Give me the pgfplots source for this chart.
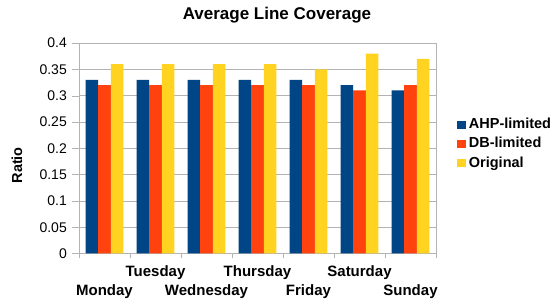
\documentclass[border=0pt]{standalone}
\usepackage{pgfplots}
\pgfplotsset{compat=1.18}
\usepackage{fontspec}
\setmainfont{Liberation Sans}
\definecolor{cblue}{HTML}{004586}
\definecolor{corange}{HTML}{FF420E}
\definecolor{cyellow}{HTML}{FFD320}
\definecolor{cgrid}{HTML}{B3B3B3}
\begin{document}
\begin{tikzpicture}[x=1pt,y=1pt]
\path[use as bounding box] (0,0) rectangle (553,302);
\begin{axis}[
  at={(79pt,48.5pt)}, anchor=south west,
  scale only axis,
  width=357pt, height=210.5pt,
  xmin=-0.5, xmax=6.5,
  ymin=0, ymax=0.4,
  ytick={0,0.05,...,0.4},
  yticklabels={0,0.05,0.1,0.15,0.2,0.25,0.3,0.35,0.4},
  xtick={0,...,6},
  minor xtick={-0.5,0.5,...,6.5},
  xticklabels={{\strut\\Monday},{Tuesday\\\strut},{\strut\\Wednesday},{Thursday\\\strut},{\strut\\Friday},{Saturday\\\strut},{\strut\\Sunday}},
  xticklabel style={align=center, anchor=north, inner sep=0pt, yshift=-5pt, font=\fontsize{15}{17.5}\selectfont\bfseries},
  yticklabel style={anchor=east, inner sep=0pt, xshift=-5pt, font=\fontsize{14}{16}\selectfont},
  major x tick style={draw=none},
  minor x tick style={draw=cgrid},
  minor tick length=4pt,
  major tick length=7pt,
  tick align=outside,
  ytick style={draw=cgrid},
  xtick pos=bottom, ytick pos=left,
  axis line style={cgrid},
  ymajorgrids, grid style={cgrid},
  title={Average Line Coverage},
  title style={at={(axis description cs:0.5546,1.105)}, anchor=center, font=\fontsize{17}{20}\selectfont\bfseries},
  ylabel={Ratio},
  ylabel style={at={(axis description cs:-0.174,0.419)}, anchor=center, font=\fontsize{14.5}{17}\selectfont\bfseries},
  legend style={draw=none, fill=none, at={(axis description cs:1.058,0.519)}, anchor=west, inner sep=0pt,
    font=\fontsize{14.5}{17}\selectfont\bfseries, row sep=5.8pt, column sep=3pt,
    nodes={inner sep=0pt, text height=10.5pt, text depth=3pt}},
  legend cell align=left,
  legend image code/.code={\fill[#1] (0pt,-3.7pt) rectangle (9pt,4.3pt);},
  /pgf/number format/assume math mode=true,
]
\addplot[ybar, bar width=12.6pt, bar shift=-12.6pt, fill=cblue, draw=none] coordinates {(0,0.33) (1,0.33) (2,0.33) (3,0.33) (4,0.33) (5,0.32) (6,0.31)};
\addlegendentry{AHP-limited}
\addplot[ybar, bar width=12.6pt, bar shift=0pt, fill=corange, draw=none] coordinates {(0,0.32) (1,0.32) (2,0.32) (3,0.32) (4,0.32) (5,0.31) (6,0.32)};
\addlegendentry{DB-limited}
\addplot[ybar, bar width=12.6pt, bar shift=12.6pt, fill=cyellow, draw=none] coordinates {(0,0.36) (1,0.36) (2,0.36) (3,0.36) (4,0.35) (5,0.38) (6,0.37)};
\addlegendentry{Original}
\end{axis}
\end{tikzpicture}
\end{document}
